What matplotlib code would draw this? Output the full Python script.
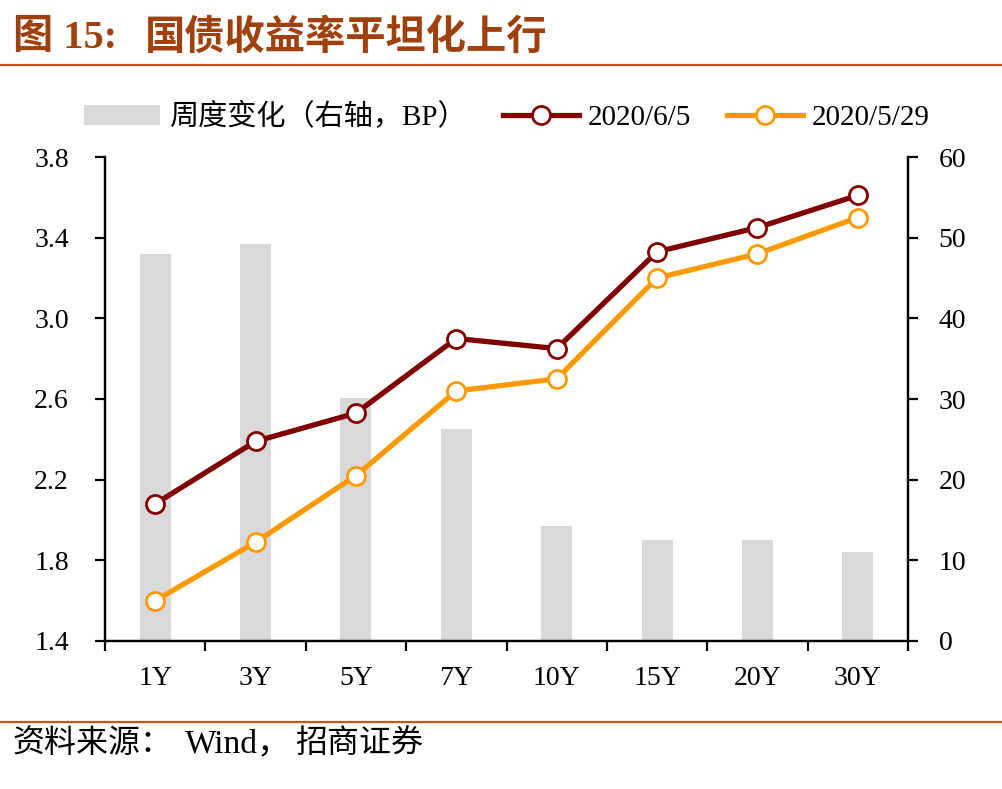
import matplotlib
matplotlib.use("Agg")
import matplotlib.pyplot as plt
import numpy as np

plt.rcParams['font.family'] = ['Liberation Serif', 'Noto Sans CJK SC', 'DejaVu Sans']

categories = ['1Y', '3Y', '5Y', '7Y', '10Y', '15Y', '20Y', '30Y']
y_0605 = [2.08, 2.39, 2.53, 2.90, 2.85, 3.33, 3.45, 3.61]
y_0529 = [1.60, 1.89, 2.22, 2.64, 2.70, 3.20, 3.32, 3.50]
weekly_bp = [48.0, 49.2, 30.1, 26.3, 14.2, 12.5, 12.5, 11.0]
left_ticks = [1.4, 1.8, 2.2, 2.6, 3.0, 3.4, 3.8]
right_ticks = [0, 10, 20, 30, 40, 50, 60]

fig = plt.figure(figsize=(10.02, 7.89), dpi=100)
ax = fig.add_axes([105/1002, 1-641/789, (908-105)/1002, (641-157)/789])
ax2 = ax.twinx()
ax.set_zorder(ax2.get_zorder() + 1)
ax.patch.set_visible(False)

x = np.arange(len(categories))
bars = ax2.bar(x, weekly_bp, width=0.31, color='#D9D9D9', label='周度变化（右轴，BP）', zorder=1)
l1, = ax.plot(x, y_0605, color='#800000', lw=3.8, marker='o', ms=13, mfc='white',
              mec='#800000', mew=2.0, label='2020/6/5', zorder=3)
l2, = ax.plot(x, y_0529, color='#FF9900', lw=3.8, marker='o', ms=13, mfc='white',
              mec='#FF9900', mew=2.0, label='2020/5/29', zorder=3)

ax.set_xlim(-0.5, len(categories) - 0.5)
ax.set_ylim(1.4, 3.8)
ax2.set_ylim(0, 60)
ax.set_yticks(left_ticks)
ax.set_yticklabels([f'{v:.1f}' for v in left_ticks])
ax2.set_yticks(right_ticks)
ax2.set_yticklabels([str(v) for v in right_ticks])

ax.set_xticks(np.arange(-0.5, len(categories), 1.0))
ax.set_xticklabels([])
ax.set_xticks(x, minor=True)
ax.set_xticklabels(categories, minor=True)

for a in (ax, ax2):
    a.spines['top'].set_visible(False)
    for s in a.spines.values():
        s.set_linewidth(1.6)
        s.set_color('black')

ax.tick_params(axis='x', which='major', direction='out', length=7, width=1.6)
ax.tick_params(axis='x', which='minor', length=0, pad=18, labelsize=20)
ax.tick_params(axis='y', direction='out', length=7, width=1.6, pad=19, labelsize=20)
ax2.tick_params(axis='y', direction='out', length=7, width=1.6, pad=15, labelsize=20)

fig.legend(handles=[bars, l1, l2], loc='center', bbox_to_anchor=(507/1002, 1-117/789),
           ncol=3, frameon=False, fontsize=21, handlelength=2.6, handletextpad=0.3,
           columnspacing=1.25)

title_color = '#A0410D'
fig.text(13/1002, 1-38/789, '图 15:', fontsize=29, fontweight='bold',
         color=title_color, ha='left', va='center')
fig.text(145/1002, 1-38/789, '国债收益率平坦化上行', fontsize=29, fontweight='bold',
         color=title_color, ha='left', va='center')
fig.add_artist(plt.Line2D([0, 1], [1-64.5/789, 1-64.5/789], color='#C0581B', lw=1.6,
                          transform=fig.transFigure))
fig.add_artist(plt.Line2D([0, 1], [1-722/789, 1-722/789], color='#C0581B', lw=1.6,
                          transform=fig.transFigure))
fig.text(12/1002, 1-744/789, '资料来源：', fontsize=23, ha='left', va='center')
fig.text(185/1002, 1-744/789, 'Wind，', fontsize=24, ha='left', va='center')
fig.text(295/1002, 1-744/789, '招商证券', fontsize=23, ha='left', va='center')

fig.savefig('out.png', dpi=100)
